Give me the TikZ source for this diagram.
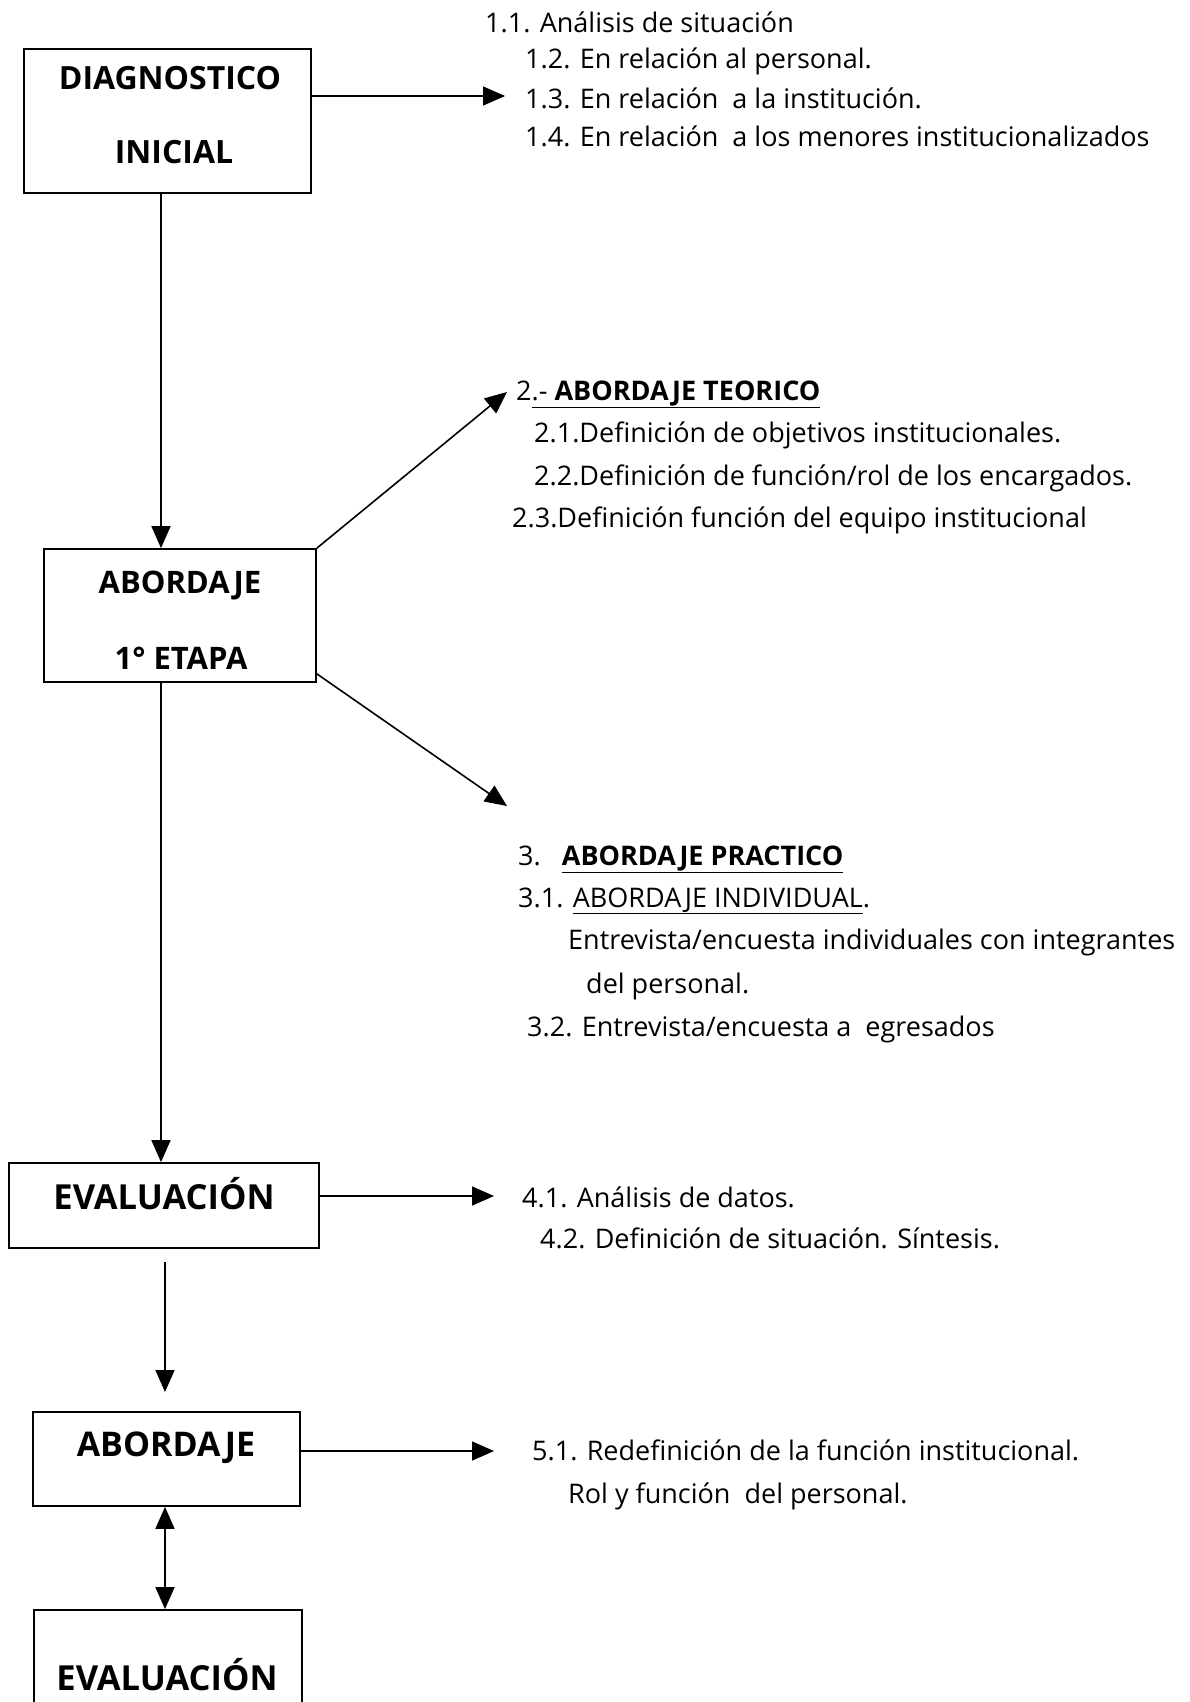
\documentclass[tikz,border=0pt]{standalone}
\usepackage{fontspec}
\setmainfont{Open Sans}
\usetikzlibrary{arrows.meta}
\begin{document}
\begin{tikzpicture}[x=1pt,y=-1pt,
  box/.style={draw, line width=1.7pt, inner sep=0pt},
  conn/.style={line width=1.6pt, -{Triangle[length=22pt,width=19pt]}},
  both/.style={line width=1.6pt, {Triangle[length=22pt,width=19pt]}-{Triangle[length=22pt,width=19pt]}},
  item/.style={anchor=base west, inner sep=0pt, font=\fontsize{27}{32}\selectfont},
  lab/.style={anchor=base, inner sep=0pt, font=\fontsize{32}{38}\selectfont\bfseries},
  labB/.style={anchor=base, inner sep=0pt, font=\fontsize{34.5}{40}\selectfont\bfseries}]
\useasboundingbox (0,0) rectangle (1190,1702);

% boxes
\node[box, minimum width=287pt, minimum height=144pt] (diag) at (167.5,121) {};
\node[box, minimum width=272pt, minimum height=133pt] (ab1) at (180,615.5) {};
\node[box, minimum width=310pt, minimum height=85pt] (ev1) at (164,1205.5) {};
\node[box, minimum width=267pt, minimum height=94pt] (ab2) at (166.5,1459) {};
\node[box, minimum width=268pt, minimum height=150pt] (ev2) at (168,1685) {};

% box labels
\node[lab] (l1) at (170,89) {DIAGNOSTICO};
\node[lab] (l2) at (174,163) {INICIAL};
\node[lab, font=\fontsize{31}{37}\selectfont\bfseries] (l3) at (180,593) {ABORDAJE};
\node[lab, font=\fontsize{31}{37}\selectfont\bfseries] (l4) at (181,669) {1° ETAPA};
\node[labB] (l5) at (164,1209) {EVALUACIÓN};
\node[labB, font=\fontsize{34}{40}\selectfont\bfseries] (l6) at (166,1456) {ABORDAJE};
\node[labB] (l7) at (167,1690) {EVALUACIÓN};

% text items
\node[item] (i11) at (485,33) {1.1. Análisis de situación};
\node[item] (i12) at (525,69) {1.2. En relación al personal.};
\node[item] (i13) at (525,108) {1.3. En relación\ \ a la institución.};
\node[item] (i14) at (525,146) {1.4. En relación\ \ a los menores institucionalizados};

\node[item] (i2) at (516,400) {2\underline{.- \textbf{ABORDAJE TEORICO}}};
\node[item] (i21) at (534,442) {2.1.Definición de objetivos institucionales.};
\node[item] (i22) at (534,485) {2.2.Definición de función/rol de los encargados.};
\node[item] (i23) at (512,527) {2.3.Definición función del equipo institucional};

\node[item] (i3) at (518,865) {3.\ \ \ \underline{\textbf{ABORDAJE PRACTICO}}};
\node[item] (i31) at (518,907) {3.1. \underline{ABORDAJE INDIVIDUAL}.};
\node[item] (i31a) at (568,949) {Entrevista/encuesta individuales con integrantes};
\node[item] (i31b) at (586,993) {del personal.};
\node[item] (i32) at (527,1036) {3.2. Entrevista/encuesta a\ \ egresados};

\node[item] (i41) at (522,1207) {4.1. Análisis de datos.};
\node[item] (i42) at (540,1248) {4.2. Definición de situación. Síntesis.};

\node[item] (i51) at (532,1460) {5.1. Redefinición de la función institucional.};
\node[item] (i52) at (568,1503) {Rol y función\ \ del personal.};

% connectors
\coordinate (t1) at (505,96);
\draw[conn] (diag.east |- t1) -- (t1);
\coordinate (x1) at (161,0);
\draw[conn] (diag.south -| x1) -- (ab1.north -| x1);
\coordinate (t2) at (507,392);
\draw[conn] (ab1.north east) -- (t2);
\coordinate (t3) at (507,806);
\draw[conn] ([yshift=9pt]ab1.south east) -- (t3);
\draw[conn] (ab1.south -| x1) -- (ev1.north -| x1);
\coordinate (t4) at (494,1196);
\draw[conn] (ev1.east |- t4) -- (t4);
\coordinate (a1) at (165,1262);
\coordinate (a2) at (165,1392);
\draw[conn] (a1) -- (a2);
\coordinate (t5) at (494,1451);
\draw[conn] (ab2.east |- t5) -- (t5);
\coordinate (x2) at (165,0);
\draw[both] (ab2.south -| x2) -- (ev2.north -| x2);
\end{tikzpicture}
\end{document}
